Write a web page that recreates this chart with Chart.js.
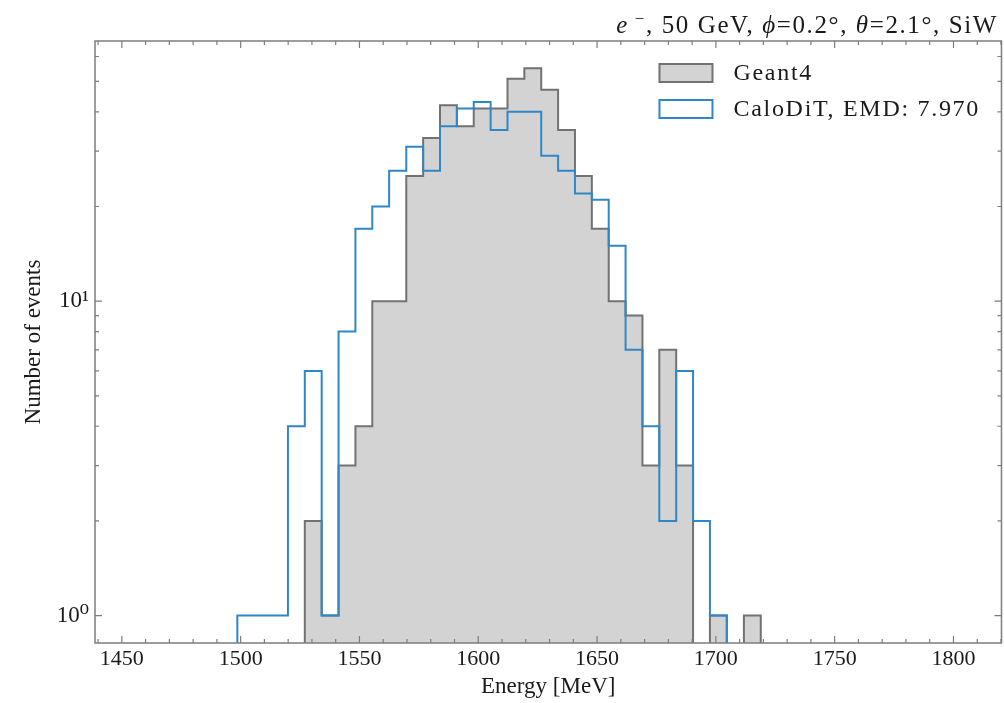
<!DOCTYPE html>
<html>
<head>
<meta charset="utf-8">
<script src="https://cdn.jsdelivr.net/npm/chart.js@4.4.1/dist/chart.umd.min.js"></script>
<style>
    html, body { margin: 0; padding: 0; background: #fff; }
    #wrap { width: 1004px; height: 703px; }
</style>
</head>
<body>
<div id="wrap"><canvas id="myChart" width="1004" height="703"></canvas></div>
<script>
// Границы бинов гистограммы (МэВ)
const binEdges = [
    1498.6, 1505.7, 1512.8, 1519.9, 1527.0, 1534.1, 1541.2, 1548.3,
    1555.4, 1562.5, 1569.7, 1576.8, 1583.9, 1591.0, 1598.1, 1605.2,
    1612.3, 1619.4, 1626.5, 1633.6, 1640.7, 1647.8, 1654.9, 1662.0,
    1669.1, 1676.2, 1683.3, 1690.4, 1697.5, 1704.6, 1711.8, 1718.9
];

// Число событий в каждом бине
const geant4Counts = [
    0, 0, 0, 0, 2, 1, 3, 4, 10, 10, 25, 33, 42, 36, 41, 41,
    51, 55, 47, 35, 25, 17, 10, 9, 3, 7, 3, 0, 1, 0, 1
];
const caloditCounts = [
    1, 1, 1, 4, 6, 1, 8, 17, 20, 26, 31, 26, 36, 41, 43, 35,
    40, 40, 29, 26, 22, 21, 15, 7, 4, 2, 6, 2, 1, 0, 0
];

const seriesLabels = ['Geant4', 'CaloDiT, EMD: 7.970'];

// Подписи осей
const xTickLabels = [1450, 1500, 1550, 1600, 1650, 1700, 1750, 1800];
const yTickValues = [1, 10];
const yTickLabels = ['10⁰', '10¹'];

const FONT = '"Liberation Serif", "DejaVu Serif", serif';
const TEXT_COLOR = '#1a1a1a';
const FRAME_COLOR = '#7d7d7d';

const xMin = 1438.7, xMax = 1820.2;
const yMin = 0.818, yMax = 67.2;
const floorValue = 0.5; // ниже оси, обрезается областью графика

// Контур гистограммы в виде ступенек
function outline(counts) {
    const pts = [{ x: binEdges[0], y: floorValue }];
    counts.forEach((c, i) => {
        const v = c > 0 ? c : floorValue;
        pts.push({ x: binEdges[i], y: v });
        pts.push({ x: binEdges[i + 1], y: v });
    });
    pts.push({ x: binEdges[binEdges.length - 1], y: floorValue });
    return pts;
}

// Рамка и засечки внутрь, как в matplotlib
const framePlugin = {
    id: 'frame',
    afterDraw(chart) {
        const { ctx, chartArea: a, scales } = chart;
        ctx.save();
        ctx.strokeStyle = FRAME_COLOR;
        ctx.lineWidth = 1.5;
        ctx.strokeRect(a.left, a.top, a.right - a.left, a.bottom - a.top);

        ctx.lineWidth = 1.2;
        ctx.beginPath();
        scales.x.ticks.forEach(t => {
            const px = scales.x.getPixelForValue(t.value);
            const len = xTickLabels.includes(t.value) ? 7 : 4;
            ctx.moveTo(px, a.bottom); ctx.lineTo(px, a.bottom - len);
            ctx.moveTo(px, a.top); ctx.lineTo(px, a.top + len);
        });
        scales.y.ticks.forEach(t => {
            const py = scales.y.getPixelForValue(t.value);
            const len = yTickValues.includes(t.value) ? 7 : 4;
            ctx.moveTo(a.left, py); ctx.lineTo(a.left + len, py);
            ctx.moveTo(a.right, py); ctx.lineTo(a.right - len, py);
        });
        ctx.stroke();
        ctx.restore();
    }
};

// Легенда внутри области графика
const legendPlugin = {
    id: 'insideLegend',
    afterDraw(chart) {
        const { ctx, chartArea: a } = chart;
        ctx.save();
        ctx.font = '24px ' + FONT;
        ctx.textBaseline = 'middle';
        ctx.fillStyle = TEXT_COLOR;
        chart.data.datasets.forEach((ds, i) => {
            const bx = a.right - 342;
            const by = a.top + 23 + i * 36;
            ctx.fillStyle = ds.fill ? ds.backgroundColor : '#ffffff';
            ctx.fillRect(bx, by, 53, 18);
            ctx.strokeStyle = ds.borderColor;
            ctx.lineWidth = 2;
            ctx.strokeRect(bx, by, 53, 18);
            ctx.fillStyle = TEXT_COLOR;
            ctx.letterSpacing = '1.7px';
            ctx.fillText(ds.label, bx + 74, by + 10);
        });
        ctx.restore();
    }
};

// Заголовок справа сверху с курсивными символами
const titlePlugin = {
    id: 'rightTitle',
    afterDraw(chart) {
        const ctx = chart.ctx;
        const parts = [
            { t: 'e', it: true },
            { t: ' −', sup: true },
            { t: ', 50 GeV, ' },
            { t: 'ϕ', it: true },
            { t: '=0.2°, ' },
            { t: 'θ', it: true },
            { t: '=2.1°, SiW' }
        ];
        const fontFor = p => (p.it ? 'italic ' : '') + (p.sup ? '17px ' : '25px ') + FONT;
        ctx.save();
        ctx.textBaseline = 'alphabetic';
        ctx.letterSpacing = '1.6px';
        let total = 0;
        parts.forEach(p => { ctx.font = fontFor(p); total += ctx.measureText(p.t).width; });
        let x = 998 - total;
        const base = 33;
        ctx.fillStyle = TEXT_COLOR;
        parts.forEach(p => {
            ctx.font = fontFor(p);
            ctx.fillText(p.t, x, p.sup ? base - 9 : base);
            x += ctx.measureText(p.t).width;
        });
        ctx.restore();
    }
};

const ctx = document.getElementById('myChart').getContext('2d');
const myChart = new Chart(ctx, {
    type: 'line',
    data: {
        datasets: [{
            label: seriesLabels[0],
            data: outline(geant4Counts),
            borderColor: '#727272',
            backgroundColor: '#d3d3d3',
            fill: 'start',
            borderWidth: 2,
            pointRadius: 0,
            tension: 0,
            order: 2
        }, {
            label: seriesLabels[1],
            data: outline(caloditCounts),
            borderColor: '#2f87c7',
            backgroundColor: '#2f87c7',
            fill: false,
            borderWidth: 2,
            pointRadius: 0,
            tension: 0,
            order: 1
        }]
    },
    options: {
        responsive: false,
        animation: false,
        events: [],
        layout: { padding: { top: 41, right: 1, left: 0, bottom: 0 } },
        plugins: {
            legend: { display: false },
            tooltip: { enabled: false },
            title: { display: false }
        },
        scales: {
            x: {
                type: 'linear',
                min: xMin,
                max: xMax,
                afterBuildTicks: scale => {
                    const ticks = [];
                    for (let v = 1440; v <= xMax; v += 10) ticks.push({ value: v });
                    scale.ticks = ticks;
                },
                afterFit: scale => { scale.height = 60; },
                ticks: {
                    autoSkip: false,
                    maxRotation: 0,
                    minRotation: 0,
                    padding: 3,
                    color: TEXT_COLOR,
                    font: { family: FONT, size: 22 },
                    callback: v => xTickLabels.includes(v) ? String(v) : ''
                },
                grid: { display: false, drawTicks: false },
                border: { display: false },
                title: {
                    display: true,
                    text: 'Energy [MeV]',
                    color: TEXT_COLOR,
                    font: { family: FONT, size: 23 },
                    padding: { top: 0, bottom: 2 }
                }
            },
            y: {
                type: 'logarithmic',
                min: yMin,
                max: yMax,
                afterBuildTicks: scale => {
                    const ticks = [];
                    [1, 10].forEach(dec => {
                        for (let m = 1; m <= 9; m++) {
                            const v = m * dec;
                            if (v >= yMin && v <= yMax) ticks.push({ value: v });
                        }
                    });
                    scale.ticks = ticks;
                },
                afterFit: scale => { scale.width = 95; },
                ticks: {
                    autoSkip: false,
                    padding: 6,
                    color: TEXT_COLOR,
                    font: { family: FONT, size: 23 },
                    callback: v => {
                        const i = yTickValues.indexOf(v);
                        return i >= 0 ? yTickLabels[i] : '';
                    }
                },
                grid: { display: false, drawTicks: false },
                border: { display: false },
                title: {
                    display: true,
                    text: 'Number of events',
                    color: TEXT_COLOR,
                    font: { family: FONT, size: 23 },
                    padding: { top: 20, bottom: 0 }
                }
            }
        }
    },
    plugins: [framePlugin, legendPlugin, titlePlugin]
});
</script>
</body>
</html>
